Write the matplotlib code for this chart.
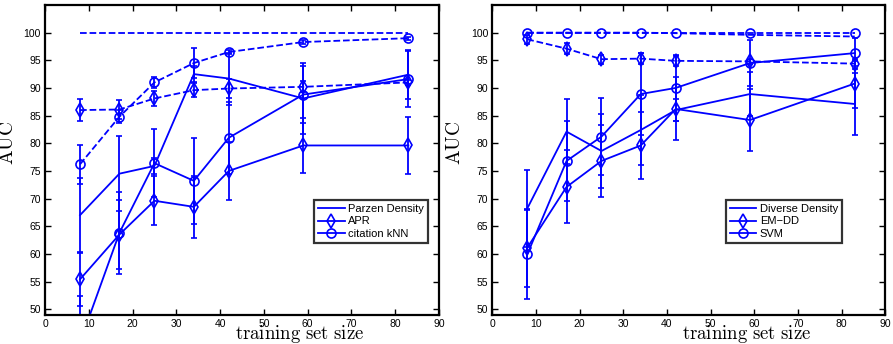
import matplotlib
matplotlib.use("Agg")
import matplotlib.pyplot as plt
from matplotlib.lines import Line2D

plt.rcParams['font.family'] = ['Liberation Sans', 'DejaVu Sans']
plt.rcParams['mathtext.fontset'] = 'cm'

x = [8, 17, 25, 34, 42, 59, 83]

# ---- left panel ----
parzen_test = [67.0, 74.5, 75.9, 92.5, 91.7, 88.1, 92.4]
parzen_test_err = [6.8, 6.8, 1.5, 1.4, 4.7, 6.4, 4.4]
apr_test = [55.4, 63.5, 69.6, 68.5, 75.0, 79.6, 79.6]
apr_test_err = [4.9, 6.3, 4.4, 5.6, 5.3, 5.0, 5.2]
knn_test = [44.0, 63.8, 76.4, 73.2, 81.0, 88.8, 91.6]
knn_test_err = [8.4, 7.4, 6.2, 7.8, 6.5, 5.2, 5.1]

parzen_train = [100, 100, 100, 100, 100, 100, 100]
apr_train = [86.0, 86.1, 88.1, 89.6, 89.9, 90.2, 91.0]
apr_train_err = [2.0, 1.8, 1.4, 1.3, 1.8, 1.0, 0.5]
knn_train = [76.2, 84.8, 91.0, 94.5, 96.5, 98.3, 99.0]
knn_train_err = [3.5, 1.2, 1.0, 2.7, 0.3, 0.3, 0.3]

# ---- right panel ----
dd_test = [68.2, 82.1, 78.6, 82.4, 86.0, 88.9, 87.1]
dd_test_err = [6.9, 5.9, 6.7, 6.3, 2.0, 3.9, 5.6]
emdd_test = [61.1, 72.1, 76.8, 79.6, 86.2, 84.2, 90.8]
emdd_test_err = [7.1, 6.6, 6.5, 6.1, 5.7, 5.6, 4.4]
svm_test = [59.9, 76.8, 81.2, 88.9, 90.0, 94.5, 96.3]
svm_test_err = [8.1, 7.3, 7.0, 7.4, 6.0, 4.1, 2.8]

dd_train = [100, 100, 100, 100, 99.9, 99.6, 99.3]
emdd_train = [98.8, 97.1, 95.2, 95.3, 94.9, 94.8, 94.4]
emdd_train_err = [0.8, 1.0, 0.8, 1.0, 0.9, 0.5, 0.5]
svm_train = [100, 100, 100, 100, 100, 100, 100]

left_labels = ['Parzen Density', 'APR', 'citation kNN']
right_labels = ['Diverse Density', 'EM\u2212DD', 'SVM']

xticks = [0, 10, 20, 30, 40, 50, 60, 70, 80, 90]
yticks = [50, 55, 60, 65, 70, 75, 80, 85, 90, 95, 100]

BLUE = '#0000ff'
LW = 1.3
MS = 6.5
CAP = 2.4

fig = plt.figure(figsize=(8.93, 3.44), dpi=100)
axL = fig.add_axes([0.0504, 0.0852, 0.4412, 0.9003])
axR = fig.add_axes([0.5513, 0.0852, 0.4401, 0.9003])


def series(ax, y, err, marker, ls):
    kw = dict(color=BLUE, lw=LW, ls=ls, marker=marker, ms=MS if marker == 'o' else MS + 1,
              mfc='none', mec=BLUE, mew=1.2)
    if err is None:
        ax.plot(x, y, **kw)
    else:
        ax.errorbar(x, y, yerr=err, capsize=CAP, elinewidth=LW, capthick=LW, **kw)


# left
series(axL, parzen_train, None, 'None', '--')
series(axL, apr_train, apr_train_err, 'd', '--')
series(axL, knn_train, knn_train_err, 'o', '--')
series(axL, parzen_test, parzen_test_err, 'None', '-')
series(axL, apr_test, apr_test_err, 'd', '-')
series(axL, knn_test, knn_test_err, 'o', '-')

# right
series(axR, dd_train, None, 'None', '--')
series(axR, emdd_train, emdd_train_err, 'd', '--')
series(axR, svm_train, None, 'o', '--')
series(axR, dd_test, dd_test_err, 'None', '-')
series(axR, emdd_test, emdd_test_err, 'd', '-')
series(axR, svm_test, svm_test_err, 'o', '-')

for ax, labels, lx in ((axL, left_labels, 0.683), (axR, right_labels, 0.594)):
    ax.set_xlim(0, 90)
    ax.set_ylim(49, 105)
    ax.set_xticks(xticks)
    ax.set_yticks(yticks)
    ax.tick_params(direction='in', length=4, width=1.0, top=True, right=True,
                   labelsize=7.5, pad=3)
    for s in ax.spines.values():
        s.set_linewidth(1.6)
    ax.set_ylabel(r'$\mathrm{AUC}$', fontsize=14)
    ax.yaxis.set_label_coords(-0.072, 0.556)
    ax.set_xlabel(r'$\mathrm{training\ set\ size}$', fontsize=13.5)
    ax.xaxis.set_label_coords(0.647, -0.028)
    handles = [Line2D([], [], color=BLUE, lw=LW),
               Line2D([], [], color=BLUE, lw=LW, marker='d', ms=MS + 1, mfc='none', mew=1.2),
               Line2D([], [], color=BLUE, lw=LW, marker='o', ms=MS, mfc='none', mew=1.2)]
    leg = ax.legend(handles, labels, loc='upper left', bbox_to_anchor=(lx, 0.371),
                    borderaxespad=0, fontsize=8, frameon=True, fancybox=False,
                    handlelength=2.4, handletextpad=0.3, labelspacing=0.25,
                    borderpad=0.35)
    leg.get_frame().set_edgecolor('black')
    leg.get_frame().set_linewidth(1.6)

fig.savefig('out.png', dpi=100)
